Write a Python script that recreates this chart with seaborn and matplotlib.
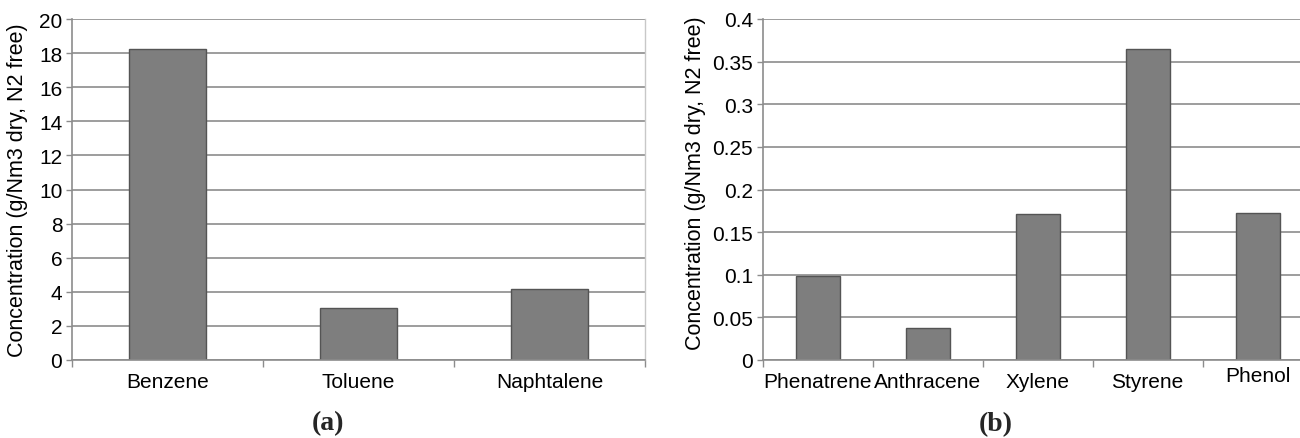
import matplotlib
matplotlib.use("Agg")
import matplotlib.pyplot as plt
import matplotlib.transforms as mtransforms
import seaborn as sns
import pandas as pd
import numpy as np
from matplotlib.ticker import FuncFormatter, FixedLocator

# ---- data ----
cats_a = ["Benzene", "Toluene", "Naphtalene"]
vals_a = [18.25, 3.07, 4.18]
cats_b = ["Phenatrene", "Anthracene", "Xylene", "Styrene", "Phenol"]
vals_b = [0.098, 0.037, 0.171, 0.365, 0.172]
yticks_a = [0, 2, 4, 6, 8, 10, 12, 14, 16, 18, 20]
yticks_b = [0, 0.05, 0.1, 0.15, 0.2, 0.25, 0.3, 0.35, 0.4]
ylabel = "Concentration (g/Nm3 dry, N2 free)"
panel_labels = ["(a)", "(b)"]

sns.set_style("white")
plt.rcParams['font.family'] = ['Liberation Sans', 'DejaVu Sans']

fig = plt.figure(figsize=(13, 4.39), dpi=100)
W, H = 1300, 439
ax_a = fig.add_axes([72 / W, (H - 361) / H, 573 / W, 341 / H])
ax_b = fig.add_axes([762.5 / W, (H - 361) / H, 550 / W, 341 / H])

bar_color = "#7e7e7e"
edge_color = "#545454"
grid_color = "#8c8c8c"

def fmt_g(v, p):
    return "%g" % v

def style(ax, cats, vals, yticks, ymax, label_x, label_y):
    df = pd.DataFrame({"cat": cats, "val": vals})
    sns.barplot(data=df, x="cat", y="val", ax=ax, color=bar_color,
                width=0.4, edgecolor=edge_color, linewidth=1.0, saturation=1)
    n = len(cats)
    ax.set_xlim(-0.5, n - 0.5)
    ax.set_ylim(0, ymax)
    ax.set_yticks(yticks)
    ax.yaxis.set_major_formatter(FuncFormatter(fmt_g))
    ax.set_axisbelow(True)
    ax.yaxis.grid(True, color=grid_color, linewidth=1.2)
    ax.xaxis.grid(False)
    ax.spines["top"].set_visible(False)
    ax.spines["right"].set_visible(True)
    ax.spines["right"].set_color("#c8c8c8")
    ax.spines["right"].set_linewidth(1.0)
    ax.spines["left"].set_color("#8c8c8c")
    ax.spines["left"].set_linewidth(1.2)
    ax.spines["bottom"].set_color("#8c8c8c")
    ax.spines["bottom"].set_linewidth(1.2)
    ax.tick_params(axis="y", which="major", length=4, width=1.0, color="#8c8c8c",
                   labelsize=15, labelcolor="black", pad=3, left=True)
    ax.tick_params(axis="x", which="major", length=0, labelsize=15,
                   labelcolor="black", pad=9)
    ax.xaxis.set_minor_locator(FixedLocator(np.arange(-0.5, n, 1.0)))
    ax.tick_params(axis="x", which="minor", length=5, width=1.0,
                   color="#8c8c8c", bottom=True)
    ax.set_xlabel("")
    ax.set_ylabel(ylabel, fontsize=15.5, color="black")
    ax.yaxis.set_label_coords(label_x, label_y)

style(ax_a, cats_a, vals_a, yticks_a, 20, -0.077, 0.5)
style(ax_b, cats_b, vals_b, yticks_b, 0.4, -0.103, 0.52)

# "Phenol" label sits a little higher in the original
for lab in ax_b.get_xticklabels():
    if lab.get_text() == "Phenol":
        lab.set_transform(lab.get_transform() +
                          mtransforms.ScaledTranslation(0, 6 / 100, fig.dpi_scale_trans))

serif = ["Liberation Serif", "DejaVu Serif"]
fig.text(328 / W, 1 - 424 / H, panel_labels[0], ha="center", va="center",
         fontsize=20, fontweight="bold", family=serif)
fig.text(996 / W, 1 - 425 / H, panel_labels[1], ha="center", va="center",
         fontsize=20, fontweight="bold", family=serif)

fig.savefig("out.png", dpi=100)
